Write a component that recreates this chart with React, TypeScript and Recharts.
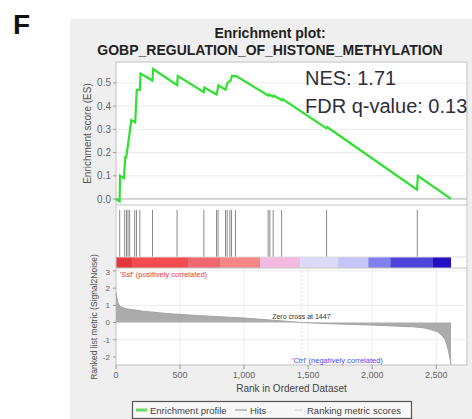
import {
  LineChart,
  Line,
  AreaChart,
  Area,
  BarChart,
  Bar,
  XAxis,
  YAxis,
  CartesianGrid,
  ReferenceArea,
  ReferenceLine,
  Label,
} from "recharts";

// GSEA enrichment plot: running ES on top, hit ticks + colour bar, ranked metric below

const xTicks = [0, 500, 1000, 1500, 2000, 2500];
const xMax = 2740;
const zeroCross = 1447;

// running enrichment score
const esRanks = [
  0, 28, 32, 62, 72, 80, 100, 120, 150, 162, 186, 192, 284, 290, 478, 482, 685, 690, 785, 800,
  855, 870, 895, 905, 935, 1190, 1194, 1228, 1232, 1295, 1300, 1640, 1648, 2350, 2356, 2615,
];
const esScores = [
  0.0, -0.01, 0.1, 0.09, 0.18, 0.18, 0.26, 0.34, 0.33, 0.47, 0.47, 0.54, 0.51, 0.56, 0.49, 0.53,
  0.46, 0.48, 0.45, 0.49, 0.47, 0.5, 0.51, 0.53, 0.53, 0.445, 0.45, 0.44, 0.445, 0.425, 0.43,
  0.305, 0.31, 0.04, 0.1, 0.0,
];
const esTicks = [0, 0.1, 0.2, 0.3, 0.4, 0.5];
const esDomain = [-0.026, 0.59];

// gene set members in the ranked list
const hitRanks = [
  31, 70, 84, 96, 109, 148, 162, 188, 287, 479, 688, 787, 799, 857, 870, 891, 904, 935, 1190,
  1203, 1229, 1295, 1646, 2354,
];

// red -> blue ranking colour bar
const barEdges = [0, 125, 562, 812, 1125, 1437, 1734, 1969, 2141, 2469, 2615];
const barColors = [
  "#e2383c",
  "#f24b50",
  "#f1676f",
  "#f68585",
  "#f3b9e0",
  "#dcdaf8",
  "#c4c4f6",
  "#8080ee",
  "#4f45dc",
  "#2410c2",
];

// ranked list metric (Signal2Noise)
const metricRanks = [
  0, 8, 18, 35, 80, 210, 400, 650, 1000, 1200, 1350, 1447, 1600, 1800, 2000, 2200, 2320, 2420,
  2508, 2545, 2570, 2594, 2609, 2615,
];
const metricValues = [
  1.72, 1.4, 1.1, 0.92, 0.8, 0.66, 0.52, 0.4, 0.26, 0.15, 0.06, 0, -0.05, -0.1, -0.15, -0.21,
  -0.25, -0.33, -0.53, -0.75, -1.0, -1.6, -2.2, -2.45,
];
const metricTicks = [-2, -1, 0, 1, 2, 3];
const metricDomain = [-2.47, 3.17];

const esData = esRanks.map((rank, i) => ({ rank, es: esScores[i] }));
const metricData = metricRanks.map((rank, i) => ({ rank, metric: metricValues[i] }));
const hitData = hitRanks.map((rank) => ({ rank, hit: 1 }));
const barSegments = barColors.map((color, i) => ({ x1: barEdges[i], x2: barEdges[i + 1], color }));

const font = "'Liberation Sans', Arial, sans-serif";
const tickStyle = { fontSize: 10, fill: "#666", fontFamily: font };
const withCommas = (v: number) => String(v).replace(/\B(?=(\d{3})+(?!\d))/g, ",");

export default function App() {
  return (
    <div
      style={{
        position: "absolute",
        left: 0,
        top: 0,
        width: 472,
        height: 419,
        overflow: "hidden",
        background: "#fff",
        fontFamily: font,
      }}
    >
      <div style={{ position: "absolute", left: 70, top: 19, width: 402, height: 400, background: "#efefef" }} />

      {/* running enrichment score */}
      <div style={{ position: "absolute", left: 0, top: 0 }}>
        <LineChart width={472} height={210} data={esData} margin={{ top: 62, right: 5, bottom: 5, left: 86 }}>
          <CartesianGrid stroke="#ebebeb" fill="#fff" />
          <XAxis
            type="number"
            dataKey="rank"
            domain={[0, xMax]}
            ticks={xTicks}
            height={0}
            tick={false}
            tickLine={false}
            axisLine={false}
          />
          <YAxis
            type="number"
            domain={esDomain}
            ticks={esTicks}
            width={30}
            allowDataOverflow
            tickFormatter={(v: number) => v.toFixed(1)}
            tick={tickStyle}
            tickSize={3}
            tickMargin={2}
            axisLine={false}
            stroke="#999"
          >
            <Label
              value="Enrichment score (ES)"
              angle={-90}
              position="insideLeft"
              offset={1}
              style={{ textAnchor: "middle", fontSize: 10, fill: "#555", fontFamily: font }}
            />
          </YAxis>
          <ReferenceLine y={0} stroke="#b5b5b5" />
          <ReferenceArea x1={0} x2={xMax} y1={esDomain[0]} y2={esDomain[1]} fill="none" stroke="#c8c8c8" />
          <Line
            type="linear"
            dataKey="es"
            stroke="#2fe02f"
            strokeWidth={2.2}
            dot={false}
            isAnimationActive={false}
          />
        </LineChart>
      </div>

      {/* hits and colour bar */}
      <div style={{ position: "absolute", left: 0, top: 205 }}>
        <BarChart width={472} height={63} data={hitData} margin={{ top: 0, right: 5, bottom: 0, left: 116 }}>
          <CartesianGrid fill="#fff" horizontal={false} vertical={false} />
          <XAxis type="number" dataKey="rank" domain={[0, xMax]} hide />
          <YAxis type="number" domain={[-0.234, 1.106]} allowDataOverflow hide />
          {barSegments.map((s) => (
            <ReferenceArea
              key={s.x1}
              x1={s.x1}
              x2={s.x2}
              y1={-0.234}
              y2={0}
              fill={s.color}
              fillOpacity={1}
              stroke="none"
            />
          ))}
          <ReferenceLine y={0} stroke="#dcdcdc" />
          <ReferenceArea x1={0} x2={xMax} y1={-0.234} y2={1.106} fill="none" stroke="#c8c8c8" />
          <Bar dataKey="hit" fill="#8a8a8a" barSize={1} isAnimationActive={false} />
        </BarChart>
      </div>

      {/* ranked list metric */}
      <div style={{ position: "absolute", left: 0, top: 268 }}>
        <AreaChart width={472} height={130} data={metricData} margin={{ top: 0, right: 5, bottom: 0, left: 86 }}>
          <CartesianGrid stroke="#ebebeb" fill="#fff" />
          <XAxis
            type="number"
            dataKey="rank"
            domain={[0, xMax]}
            ticks={xTicks}
            tickFormatter={withCommas}
            height={33}
            tick={{ ...tickStyle, fontSize: 9 }}
            tickSize={4}
            tickMargin={3}
            axisLine={false}
            stroke="#999"
          >
            <Label
              value="Rank in Ordered Dataset"
              position="insideBottom"
              offset={6}
              style={{ fontSize: 10, fill: "#444", fontFamily: font }}
            />
          </XAxis>
          <YAxis
            type="number"
            domain={metricDomain}
            ticks={metricTicks}
            width={30}
            allowDataOverflow
            tick={{ ...tickStyle, fontSize: 8 }}
            tickSize={3}
            tickMargin={3}
            axisLine={false}
            stroke="#999"
          />
          <ReferenceArea
            x1={0}
            x2={xMax}
            y1={metricDomain[0]}
            y2={metricDomain[1]}
            fill="none"
            stroke="#c8c8c8"
          />
          <Area
            type="linear"
            dataKey="metric"
            baseValue={0}
            fill="#ababab"
            fillOpacity={1}
            stroke="#a3a3a3"
            isAnimationActive={false}
          />
          <ReferenceLine
            x={zeroCross}
            stroke="#dddddd"
            strokeDasharray="2 2"
            label={{ value: "Zero cross at 1447", position: "center", fontSize: 7, fill: "#333", fontFamily: font }}
          />
        </AreaChart>
      </div>

      <svg width={472} height={419} style={{ position: "absolute", left: 0, top: 0, pointerEvents: "none" }}>
        <text x={13} y={34} fontSize={28} fontWeight="bold" fontFamily={font} fill="#111">
          F
        </text>
        <text x={270} y={37.5} textAnchor="middle" fontSize={14} fontWeight="bold" fontFamily={font} fill="#222">
          Enrichment plot:
        </text>
        <text x={270} y={55} textAnchor="middle" fontSize={14} fontWeight="bold" fontFamily={font} fill="#222">
          GOBP_REGULATION_OF_HISTONE_METHYLATION
        </text>
        <text x={305} y={85} fontSize={20} fontFamily={font} fill="#2e2e3e">
          NES: 1.71
        </text>
        <text x={305} y={112.5} fontSize={20} fontFamily={font} fill="#2e2e3e">
          FDR q-value: 0.13
        </text>
        <text
          transform="translate(97,317) rotate(-90)"
          textAnchor="middle"
          fontSize={8.5}
          fontFamily={font}
          fill="#555"
        >
          Ranked list metric (Signal2Noise)
        </text>
        <text x={120} y={276.5} fontSize={7.5} fontFamily={font} fill="#e6393e">
          'Ssf' (positively correlated)
        </text>
        <text x={292} y={362.5} fontSize={7.5} fontFamily={font} fill="#4a4af5">
          'Ctrl' (negatively correlated)
        </text>

        {/* legend */}
        <rect x={132.5} y={401.5} width={279} height={17} fill="#f7f7f7" stroke="#555" strokeWidth={1.2} />
        <line x1={136} x2={147} y1={410} y2={410} stroke="#66dd66" strokeWidth={3} />
        <text x={150} y={413.5} fontSize={9.5} fontFamily={font} fill="#444">
          Enrichment profile
        </text>
        <line x1={235} x2={247} y1={410} y2={410} stroke="#888" strokeWidth={1} />
        <text x={250} y={413.5} fontSize={9.5} fontFamily={font} fill="#444">
          Hits
        </text>
        <line x1={295} x2={303} y1={410} y2={410} stroke="#ccc" strokeWidth={1} />
        <text x={307} y={413.5} fontSize={9.5} fontFamily={font} fill="#444">
          Ranking metric scores
        </text>
      </svg>
    </div>
  );
}
